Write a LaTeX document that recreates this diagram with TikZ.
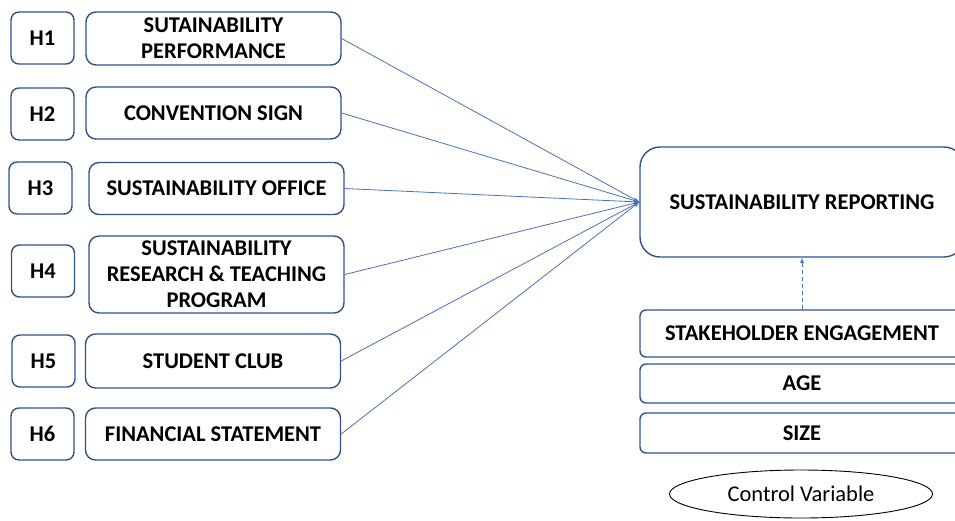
\documentclass[tikz,border=0pt]{standalone}
\usepackage{fontspec}
\setmainfont{Carlito}
\usetikzlibrary{arrows}
\usetikzlibrary{shapes.geometric}
\definecolor{bord}{RGB}{47,82,143}
\definecolor{trait}{RGB}{68,114,196}

\begin{document}
\begin{tikzpicture}[x=1pt,y=-1pt]
	\tikzstyle{hyp}=[draw=bord,line width=1.4pt,rounded corners=8pt,minimum width=63pt,minimum height=52pt,inner sep=0pt,font=\fontsize{22.5}{26}\selectfont\bfseries]
	\tikzstyle{vari}=[hyp,rounded corners=10pt,minimum width=255pt,align=center]
	\tikzstyle{dep}=[hyp,rounded corners=20pt,minimum width=324pt,minimum height=110pt]
	\tikzstyle{ctrl}=[hyp,rounded corners=6pt,minimum width=324pt,minimum height=40pt]
	\tikzstyle{fleche}=[draw=trait,line width=0.8pt,-latex]
	\useasboundingbox (0,0) rectangle (955,520);
	\clip (0,0) rectangle (955,520);
	\node[hyp] (h1) at (42.5,38){H1};
	\node[hyp] (h2) at (42.5,114){H2};
	\node[hyp] (h3) at (40.5,188){H3};
	\node[hyp] (h4) at (43,271){H4};
	\node[hyp] (h5) at (43.5,361){H5};
	\node[hyp] (h6) at (42.5,434){H6};
	\node[vari,minimum height=53pt] (v1) at (213.5,38.5){SUTAINABILITY\\PERFORMANCE};
	\node[vari] (v2) at (213.5,113){CONVENTION SIGN};
	\node[vari] (v3) at (216.5,188.5){SUSTAINABILITY OFFICE};
	\node[vari,minimum height=77pt] (v4) at (216.5,274.5){SUSTAINABILITY\\RESEARCH \& TEACHING\\PROGRAM};
	\node[vari,minimum height=54pt] (v5) at (213,361){STUDENT CLUB};
	\node[vari] (v6) at (213,434){FINANCIAL STATEMENT};
	\node[dep] (sr) at (802,202){SUSTAINABILITY REPORTING};
	\node[ctrl,minimum height=47pt] (se) at (802,333.5){STAKEHOLDER ENGAGEMENT};
	\node[ctrl,minimum height=39pt] (age) at (802,383.5){AGE};
	\node[ctrl] (taille) at (802,433){SIZE};
	\node[ellipse,draw,line width=0.9pt,minimum width=263pt,minimum height=48pt,inner sep=0pt,font=\fontsize{22.5}{26}\selectfont] (cv) at (801,494){Control Variable};
	\foreach \i in {1,...,6}
		\draw[fleche] (v\i.east) -- (sr.west);
	\draw[fleche,dash pattern=on 4pt off 3pt] (se.north) -- (sr.south);
\end{tikzpicture}
\end{document}
